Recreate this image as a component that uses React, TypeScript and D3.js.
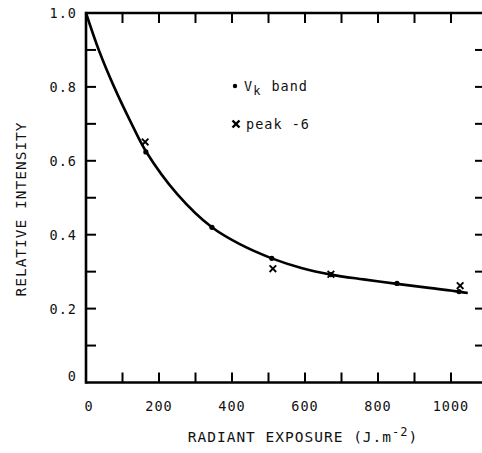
import React from "react";
import * as d3 from "d3";

const xTickLabels = [0, 200, 400, 600, 800, 1000];
const xMinorTicks = [100, 200, 300, 400, 500, 600, 700, 800, 900, 1000];
const yTickLabels = [0, 0.2, 0.4, 0.6, 0.8, 1.0];
const yMinorTicks = [0.1, 0.2, 0.3, 0.4, 0.5, 0.6, 0.7, 0.8, 0.9];

// fitted curve
const curveX = [0, 35, 77, 125, 164, 250, 345, 420, 509, 590, 671, 760, 852, 940, 1022, 1046];
const curveY = [1.0, 0.9, 0.8, 0.7, 0.626, 0.51, 0.42, 0.375, 0.336, 0.31, 0.292, 0.279, 0.267, 0.256, 0.246, 0.242];

// V_k band (dots)
const vkX = [164, 345, 509, 671, 852, 1022];
const vkY = [0.624, 0.42, 0.336, 0.292, 0.268, 0.246];

// peak -6 (crosses)
const pkX = [162, 512, 671, 1025];
const pkY = [0.651, 0.308, 0.293, 0.262];

const W = 482;
const H = 453;
const left = 86;
const top = 13;
const bottom = 382.5;
const right = 487;

export default function App() {
  const x = d3.scaleLinear().domain([0, 1000]).range([left, 451]);
  const y = d3.scaleLinear().domain([0, 1]).range([bottom, top]);
  const line = d3
    .line<[number, number]>()
    .x((d) => x(d[0]))
    .y((d) => y(d[1]))
    .curve(d3.curveCatmullRom.alpha(0.5));
  const curvePts: [number, number][] = curveX.map((v, i) => [v, curveY[i]]);
  const font = "'DejaVu Sans Mono', monospace";
  const tickLen = 10;
  const cross = (cx: number, cy: number, s: number, sw: number, key: string) => (
    <g key={key} stroke="#000" strokeWidth={sw}>
      <line x1={cx - s} y1={cy - s} x2={cx + s} y2={cy + s} />
      <line x1={cx - s} y1={cy + s} x2={cx + s} y2={cy - s} />
    </g>
  );
  const txt = { fontFamily: font, letterSpacing: "1px" } as React.CSSProperties;
  return (
    <svg
      width={W}
      height={H}
      style={{ position: "absolute", left: 0, top: 0, background: "#fff" }}
    >
      <rect x={0} y={0} width={W} height={H} fill="#fff" />
      {/* frame */}
      <g stroke="#000" strokeWidth={2.6} fill="none">
        <line x1={left} y1={top} x2={right} y2={top} />
        <line x1={left} y1={top - 1.3} x2={left} y2={bottom + 1.3} />
        <line x1={left} y1={bottom} x2={right} y2={bottom} />
        <line x1={right} y1={top} x2={right} y2={bottom} />
      </g>
      {/* ticks */}
      <g stroke="#000" strokeWidth={2}>
        {xMinorTicks.map((t) => (
          <g key={"xt" + t}>
            <line x1={x(t)} x2={x(t)} y1={bottom} y2={bottom - tickLen} />
            <line x1={x(t)} x2={x(t)} y1={top} y2={top + tickLen} />
          </g>
        ))}
        {yMinorTicks.map((t) => (
          <g key={"yt" + t}>
            <line x1={left} x2={left + tickLen} y1={y(t)} y2={y(t)} />
            <line x1={right} x2={right - tickLen - 2} y1={y(t)} y2={y(t)} />
          </g>
        ))}
      </g>
      {/* tick labels */}
      <g style={txt} fontSize={13.5} fill="#111">
        {xTickLabels.map((t) => (
          <text key={"xl" + t} x={x(t) + (t === 0 ? 3 : 0)} y={411} textAnchor="middle">
            {t === 0 ? "0" : String(t)}
          </text>
        ))}
        {yTickLabels.map((t) => (
          <text
            key={"yl" + t}
            x={77}
            y={y(t) + (t === 0 ? -2 : 5)}
            textAnchor="end"
          >
            {t === 0 ? "0" : t.toFixed(1)}
          </text>
        ))}
      </g>
      {/* axis titles */}
      <text
        x={303}
        y={442}
        textAnchor="middle"
        style={txt}
        fontSize={14.5}
        fill="#111"
      >
        RADIANT EXPOSURE (J.m
        <tspan dy={-6} fontSize={12}>-2</tspan>
        <tspan dy={6}>)</tspan>
      </text>
      <text
        transform={`translate(26, 209) rotate(-90)`}
        textAnchor="middle"
        style={txt}
        fontSize={14.5}
        fill="#111"
      >
        RELATIVE INTENSITY
      </text>
      {/* curve */}
      <path d={line(curvePts) || ""} fill="none" stroke="#000" strokeWidth={2.6} />
      {/* V_k dots */}
      {vkX.map((v, i) => (
        <circle key={"vk" + i} cx={x(v)} cy={y(vkY[i])} r={2.6} fill="#000" />
      ))}
      {/* peak -6 crosses */}
      {pkX.map((v, i) => cross(x(v), y(pkY[i]), 3.3, 1.8, "pk" + i))}
      {/* legend */}
      <circle cx={235} cy={86} r={2.2} fill="#000" />
      <text x={244} y={91} style={txt} fontSize={13.5} fill="#111">
        V
        <tspan dy={4} fontSize={12}>k</tspan>
        <tspan dy={-4} dx={10}>band</tspan>
      </text>
      {cross(236, 124, 3.5, 2.4, "leg")}
      <text x={246} y={129} style={txt} fontSize={13.5} fill="#111">
        peak -6
      </text>
    </svg>
  );
}
